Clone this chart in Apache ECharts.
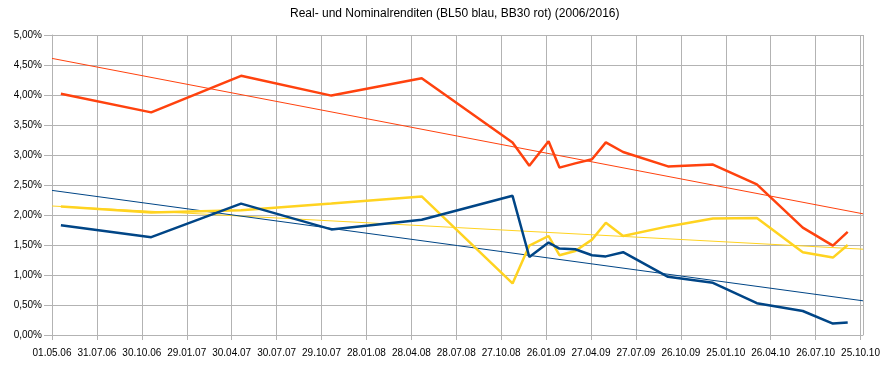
<!DOCTYPE html>
<html><head><meta charset="utf-8">
<script src="https://cdn.jsdelivr.net/npm/echarts@6/dist/echarts.min.js"></script>
<style>html,body{margin:0;padding:0;background:#fff}#c{width:888px;height:367px}</style>
</head><body><div id="c"></div>
<script>
const startDate = '2006-05-01';
const endDate = '2010-10-30';
const dates = ['2006-05-19','2006-11-18','2007-05-19','2007-11-18','2008-05-19','2008-11-19','2008-12-23','2009-01-31','2009-02-22','2009-03-26','2009-04-29','2009-05-27','2009-07-01','2009-09-30','2009-12-30','2010-03-29','2010-06-30','2010-08-30','2010-09-29'];
const redValues = [4.02,3.71,4.32,3.99,4.28,3.21,2.82,3.23,2.79,2.86,2.93,3.21,3.05,2.81,2.84,2.51,1.79,1.49,1.72];
const yellowValues = [2.14,2.04,2.08,2.19,2.31,0.86,1.49,1.65,1.33,1.40,1.59,1.87,1.65,1.81,1.94,1.95,1.38,1.29,1.50];
const blueValues = [1.83,1.63,2.19,1.76,1.92,2.32,1.30,1.54,1.44,1.43,1.33,1.31,1.38,0.97,0.87,0.53,0.40,0.19,0.21];
const trendDates = ['2006-05-01','2010-10-30'];
const trendRed = [4.61, 2.02];
const trendYellow = [2.15, 1.43];
const trendBlue = [2.41, 0.57];
const tickIntervalDays = 91;

const DAY = 86400000;
function toMs(s){const p=s.split('-').map(Number);return Date.UTC(p[0],p[1]-1,p[2]);}
const t0 = toMs(startDate);
function dayNum(s){return Math.round((toMs(s)-t0)/DAY);}
function pairs(ds, vs){return ds.map((d,i)=>[dayNum(d), vs[i]]);}
function pad(n){return (n<10?'0':'')+n;}
function fmtDay(v){const d=new Date(t0+v*DAY);return pad(d.getUTCDate())+'.'+pad(d.getUTCMonth()+1)+'.'+pad(d.getUTCFullYear()%100);}

const RED='#ff420e', YEL='#ffd320', BLU='#004586', GRID='#b3b3b3';
const chart = echarts.init(document.getElementById('c'), null, {renderer:'canvas'});
chart.setOption({
  animation:false,
  backgroundColor:'#fff',
  title:{text:'Real- und Nominalrenditen (BL50 blau, BB30 rot) (2006/2016)',left:285,top:3,
    textStyle:{fontFamily:'Liberation Sans',fontSize:12,fontWeight:'normal',color:'#000'}},
  grid:{left:52,right:25,top:35,bottom:32,containLabel:false,outerBoundsMode:'none'},
  xAxis:{type:'value',min:0,max:dayNum(endDate),interval:tickIntervalDays,
    axisLine:{show:true,lineStyle:{color:GRID,width:1}},
    axisTick:{show:true,length:5,lineStyle:{color:GRID}},
    splitLine:{show:true,lineStyle:{color:GRID,width:1}},
    axisLabel:{formatter:fmtDay,showMaxLabel:false,color:'#000',fontFamily:'Liberation Sans',fontSize:10,margin:13}},
  yAxis:{type:'value',min:0,max:5,interval:0.5,
    axisLine:{show:true,lineStyle:{color:GRID,width:1}},
    axisTick:{show:true,length:8,lineStyle:{color:GRID}},
    splitLine:{show:true,lineStyle:{color:GRID,width:1}},
    axisLabel:{formatter:v=>v.toFixed(2).replace('.',',')+'%',color:'#000',fontFamily:'Liberation Sans',fontSize:10,margin:10}},
  series:[
    {type:'line',data:pairs(trendDates,trendRed),symbol:'none',lineStyle:{color:RED,width:1},z:3},
    {type:'line',data:pairs(trendDates,trendYellow),symbol:'none',lineStyle:{color:YEL,width:1},z:3},
    {type:'line',data:pairs(trendDates,trendBlue),symbol:'none',lineStyle:{color:BLU,width:1},z:3},
    {type:'line',data:pairs(dates,yellowValues),symbol:'none',lineStyle:{color:YEL,width:2.5},z:4},
    {type:'line',data:pairs(dates,redValues),symbol:'none',lineStyle:{color:RED,width:2.5},z:4},
    {type:'line',data:pairs(dates,blueValues),symbol:'none',lineStyle:{color:BLU,width:2.5},z:5}
  ]
});
</script></body></html>
